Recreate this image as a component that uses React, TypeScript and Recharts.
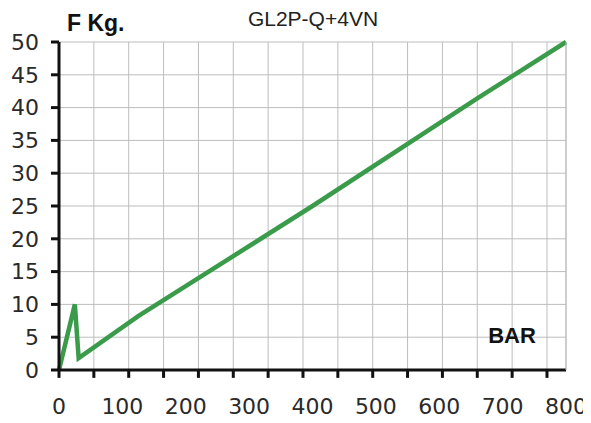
import { LineChart, Line, XAxis, YAxis, CartesianGrid, ReferenceLine } from 'recharts';

const barValues = [0, 25, 31, 125, 400, 660, 800];
const forceKg = [0, 10, 1.8, 8.2, 25, 41.4, 50];
const xLabelTicks = [0, 100, 200, 300, 400, 500, 600, 700, 800];
const xGridTicks = [0, 55, 110, 165, 220, 275, 330, 385, 440, 495, 550, 605, 660, 715, 770];
const yTicks = [0, 5, 10, 15, 20, 25, 30, 35, 40, 45, 50];

const rows = barValues.map((x, i) => ({ x, y: forceKg[i] }));

const tickFont = { fill: '#2a2a2a', fontSize: 22, fontFamily: 'DejaVu Sans' };
const W = 591;
const H = 423;
// tick mark length, in data units (about 8px)
const xTickLen = 1.2;
const yTickLen = 12.6;

export default function App() {
  return (
    <div style={{ position: 'relative', width: W, height: H, margin: -8 }}>
      {/* grid, axes, y labels and curve */}
      <div style={{ position: 'absolute', left: 0, top: 0 }}>
        <LineChart width={W} height={H} data={rows} margin={{ top: 42, right: 25, left: 0, bottom: 0 }}>
          <CartesianGrid stroke="#bdbdbd" />
          <XAxis
            dataKey="x"
            type="number"
            domain={[0, 800]}
            ticks={xGridTicks}
            tickFormatter={() => ''}
            height={53}
            axisLine={false}
            tickLine={false}
          />
          <YAxis
            type="number"
            domain={[0, 50]}
            ticks={yTicks}
            width={59}
            tickMargin={14}
            tick={tickFont}
            axisLine={false}
            tickLine={false}
          />
          <Line type="linear" dataKey="y" stroke="#3a9b4a" strokeWidth={4.5} dot={false} isAnimationActive={false} />
          <ReferenceLine y={0} stroke="#111" strokeWidth={3} ifOverflow="visible" />
          <ReferenceLine x={0} stroke="#111" strokeWidth={3} ifOverflow="visible" />
          {xGridTicks.map((v) => (
            <ReferenceLine
              key={'xt' + v}
              segment={[{ x: v, y: 0 }, { x: v, y: -xTickLen }]}
              stroke="#111"
              strokeWidth={3}
              ifOverflow="visible"
            />
          ))}
          {yTicks.map((v) => (
            <ReferenceLine
              key={'yt' + v}
              segment={[{ x: 0, y: v }, { x: -yTickLen, y: v }]}
              stroke="#111"
              strokeWidth={3}
              ifOverflow="visible"
            />
          ))}
        </LineChart>
      </div>
      {/* bar labels every 100 and right border, same scale */}
      <div style={{ position: 'absolute', left: 0, top: 0 }}>
        <LineChart width={W} height={H} data={rows} margin={{ top: 42, right: 0, left: 59, bottom: 0 }}>
          <XAxis
            dataKey="x"
            type="number"
            domain={[0, 800]}
            ticks={xLabelTicks}
            interval={0}
            axisLine={false}
            tickLine={false}
            tickSize={0}
            tickMargin={28}
            height={53}
            tick={tickFont}
          />
          <YAxis
            orientation="right"
            type="number"
            domain={[0, 50]}
            ticks={yTicks}
            width={25}
            tickLine={false}
            tickFormatter={() => ''}
            stroke="#bdbdbd"
          />
        </LineChart>
      </div>
      <div style={{ position: 'absolute', left: 67, top: 8, fontFamily: 'Liberation Sans', fontWeight: 'bold', fontSize: 23, color: '#111', lineHeight: '30px' }}>
        F Kg.
      </div>
      <div style={{ position: 'absolute', left: 213, width: 200, top: 5, textAlign: 'center', fontFamily: 'Liberation Sans', fontSize: 21, color: '#222', lineHeight: '28px' }}>
        GL2P-Q+4VN
      </div>
      <div style={{ position: 'absolute', left: 462, width: 100, top: 322, textAlign: 'center', fontFamily: 'Liberation Sans', fontWeight: 'bold', fontSize: 22, color: '#111', lineHeight: '28px' }}>
        BAR
      </div>
    </div>
  );
}
